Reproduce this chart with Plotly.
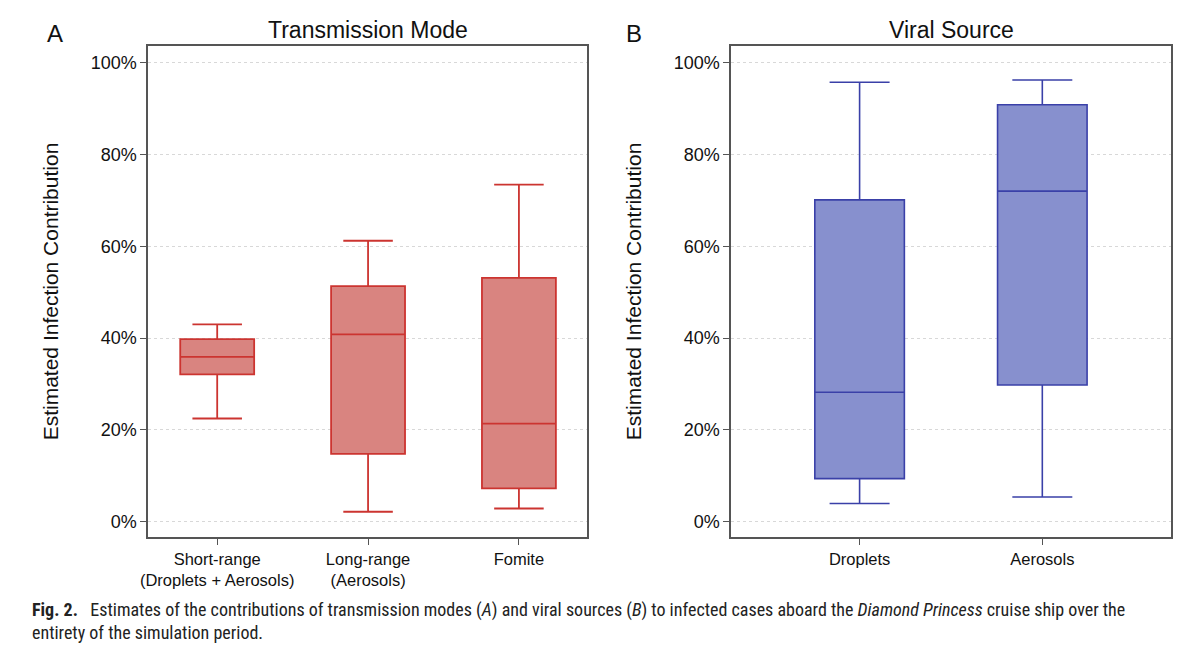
import plotly.graph_objects as go

# ---- data (percent) ----
mode_cats = ["Short-range<br>(Droplets + Aerosols)", "Long-range<br>(Aerosols)", "Fomite"]
mode_lower = [22.5, 2.2, 2.9]
mode_q1 = [32.1, 14.8, 7.3]
mode_median = [35.9, 40.8, 21.4]
mode_q3 = [39.8, 51.3, 53.1]
mode_upper = [43.0, 61.2, 73.4]

src_cats = ["Droplets", "Aerosols"]
src_lower = [4.0, 5.4]
src_q1 = [9.4, 29.8]
src_median = [28.2, 72.0]
src_q3 = [70.1, 90.8]
src_upper = [95.7, 96.2]

y_ticks = [0, 20, 40, 60, 80, 100]
y_tick_labels = ["0%", "20%", "40%", "60%", "80%", "100%"]

FONT = "Liberation Sans, Arial, Helvetica, sans-serif"
RED_FILL = "#D98480"
RED_LINE = "#CC3430"
BLUE_FILL = "#8790CE"
BLUE_LINE = "#3A40A8"
FRAME = "#555555"

# page body has an 8px margin; the figure fills the rest of the 1200x653 window
OFF = 8
W, H = 1200 - 2 * OFF, 653 - 2 * OFF


def px(x):
    return (x - OFF) / W


def py(y):
    return 1 - (y - OFF) / H


fig = go.Figure()

fig.add_trace(go.Box(
    x=mode_cats, q1=mode_q1, median=mode_median, q3=mode_q3,
    lowerfence=mode_lower, upperfence=mode_upper,
    fillcolor=RED_FILL, line=dict(color=RED_LINE, width=1.8),
    width=0.49, whiskerwidth=0.67, boxpoints=False,
    xaxis="x", yaxis="y", showlegend=False, hoverinfo="skip",
))
fig.add_trace(go.Box(
    x=src_cats, q1=src_q1, median=src_median, q3=src_q3,
    lowerfence=src_lower, upperfence=src_upper,
    fillcolor=BLUE_FILL, line=dict(color=BLUE_LINE, width=1.6),
    width=0.49, whiskerwidth=0.67, boxpoints=False,
    xaxis="x2", yaxis="y2", showlegend=False, hoverinfo="skip",
))

yaxis_common = dict(
    range=[-3.3, 103.6], tickmode="array", tickvals=y_ticks, ticktext=y_tick_labels,
    showgrid=True, gridcolor="#d8d8d8", griddash="dot", gridwidth=1,
    zeroline=False, showline=True, linecolor=FRAME, linewidth=1.5, mirror=True,
    ticks="outside", ticklen=6, tickcolor=FRAME, tickwidth=1.2,
    tickfont=dict(family=FONT, size=18, color="#111"),
    title=dict(text="Estimated Infection Contribution",
               font=dict(family=FONT, size=21, color="#111"), standoff=26),
    domain=[py(537), py(46)],
)
xaxis_common = dict(
    type="category", showgrid=False, zeroline=False,
    showline=True, linecolor=FRAME, linewidth=1.5, mirror=True,
    ticks="outside", ticklen=6, tickcolor=FRAME, tickwidth=1.2,
    tickfont=dict(family=FONT, size=16.5, color="#111"),
)

fig.update_layout(
    width=W, height=H,
    margin=dict(l=0, r=0, t=0, b=0),
    paper_bgcolor="white", plot_bgcolor="white",
    font=dict(family=FONT, color="#111"),
    xaxis=dict(domain=[px(141), px(583)], range=[-0.458, 2.452],
               categoryorder="array", categoryarray=mode_cats, anchor="y", **xaxis_common),
    yaxis=dict(anchor="x", **yaxis_common),
    xaxis2=dict(domain=[px(728), px(1171)], range=[-0.703, 1.705],
                categoryorder="array", categoryarray=src_cats, anchor="y2", **xaxis_common),
    yaxis2=dict(anchor="x2", **yaxis_common),
)

annotations = [
    dict(text="A", x=px(47), y=py(33), xref="paper", yref="paper",
         showarrow=False, font=dict(family=FONT, size=24), xanchor="center", yanchor="middle"),
    dict(text="B", x=px(630), y=py(33), xref="paper", yref="paper",
         showarrow=False, font=dict(family=FONT, size=24), xanchor="center", yanchor="middle"),
    dict(text="Transmission Mode", x=px(362), y=py(30), xref="paper", yref="paper",
         showarrow=False, font=dict(family=FONT, size=23), xanchor="center", yanchor="middle"),
    dict(text="Viral Source", x=px(950), y=py(30), xref="paper", yref="paper",
         showarrow=False, font=dict(family=FONT, size=23), xanchor="center", yanchor="middle"),
]
CAP_FONT = "Liberation Sans Narrow, Roboto Condensed, Arial Narrow, Liberation Sans, sans-serif"
annotations.append(dict(
    text="<b>Fig. 2.</b>   Estimates of the contributions of transmission modes (<i>A</i>) and viral sources (<i>B</i>) "
         "to infected cases aboard the <i>Diamond Princess</i> cruise ship over the",
    x=px(22), y=py(610), xref="paper", yref="paper", showarrow=False,
    xanchor="left", yanchor="middle", font=dict(family=CAP_FONT, size=18, color="#222"),
))
annotations.append(dict(
    text="entirety of the simulation period.",
    x=px(22), y=py(632), xref="paper", yref="paper", showarrow=False,
    xanchor="left", yanchor="middle", font=dict(family=CAP_FONT, size=18, color="#222"),
))
fig.update_layout(annotations=annotations)

fig.write_html("out.html")
